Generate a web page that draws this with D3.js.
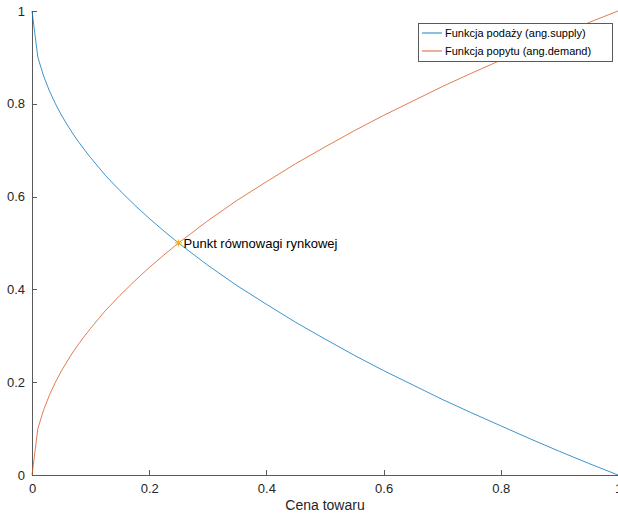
<!DOCTYPE html>
<html><head><meta charset="utf-8">
<script src="https://cdn.jsdelivr.net/npm/d3@7"></script>
<style>
html,body{margin:0;padding:0;background:#fff;}
svg{display:block;font-family:"Liberation Sans",Arial,Helvetica,sans-serif;}
</style></head><body>
<svg id="c" width="618" height="515"></svg>
<script>
const price = [0,0.01,0.02,0.03,0.04,0.05,0.06,0.07,0.08,0.09,0.1,0.125,0.15,0.175,0.2,0.225,0.25,0.275,0.3,0.35,0.4,0.45,0.5,0.55,0.6,0.65,0.7,0.75,0.8,0.85,0.9,0.95,1];
const supply = [1,0.9,0.859,0.827,0.8,0.776,0.755,0.735,0.717,0.7,0.684,0.646,0.613,0.582,0.553,0.526,0.5,0.476,0.452,0.408,0.368,0.329,0.293,0.258,0.225,0.194,0.163,0.134,0.106,0.078,0.051,0.025,0];
const demand = [0,0.1,0.141,0.173,0.2,0.224,0.245,0.265,0.283,0.3,0.316,0.354,0.387,0.418,0.447,0.474,0.5,0.524,0.548,0.592,0.632,0.671,0.707,0.742,0.775,0.806,0.837,0.866,0.894,0.922,0.949,0.975,1];
const xTicks = [0,0.2,0.4,0.6,0.8,1];
const yTicks = [0,0.2,0.4,0.6,0.8,1];
const eqPoint = {x:0.25, y:0.5, label:"Punkt równowagi rynkowej"};
const seriesNames = ["Funkcja podaży (ang.supply)","Funkcja popytu (ang.demand)"];
const xLabel = "Cena towaru";

const svg = d3.select("#c");
const L=32, R=618, T=11, B=475;
const x = d3.scaleLinear().domain([0,1]).range([L,R]);
const y = d3.scaleLinear().domain([0,1]).range([B,T]);
const axisColor="#5a5a5a", textColor="#262626";
const cSupply="#0072BD", cDemand="#D95319", cStar="#EDB120";

// axes
const xa = svg.append("g").attr("transform",`translate(0,${B})`)
  .call(d3.axisBottom(x).tickValues(xTicks).tickSizeInner(-5).tickSizeOuter(0).tickPadding(9).tickFormat(d3.format("~g")));
const ya = svg.append("g").attr("transform",`translate(${L},0)`)
  .call(d3.axisLeft(y).tickValues(yTicks).tickSizeInner(-5).tickSizeOuter(0).tickPadding(7).tickFormat(d3.format("~g")));
[xa,ya].forEach(a=>{
  a.selectAll("path,line").attr("stroke",axisColor).attr("stroke-width",1).attr("shape-rendering","crispEdges");
  a.selectAll("text").attr("fill",textColor).attr("font-size",13).attr("font-family","Liberation Sans, Arial, sans-serif");
});

svg.append("text").attr("x",(L+R)/2).attr("y",510).attr("text-anchor","middle")
  .attr("font-size",14).attr("fill",textColor).text(xLabel);

const line = (vals)=>d3.line().x((d,i)=>x(price[i])).y(d=>y(d))(vals);
svg.append("path").attr("d",line(supply)).attr("fill","none").attr("stroke",cSupply).attr("stroke-width",0.9).attr("stroke-opacity",0.85);
svg.append("path").attr("d",line(demand)).attr("fill","none").attr("stroke",cDemand).attr("stroke-width",0.9).attr("stroke-opacity",0.85);

// star marker
const sx=x(eqPoint.x), sy=y(eqPoint.y);
svg.append("path").attr("transform",`translate(${sx},${sy})`)
  .attr("d","M-3.5,0H3.5M0,-3.5V3.5M-2.5,-2.5L2.5,2.5M-2.5,2.5L2.5,-2.5")
  .attr("stroke",cStar).attr("stroke-width",1).attr("fill","none");
svg.append("text").attr("x",sx+5).attr("y",sy+4.5).attr("font-size",13).attr("fill","#000").text(eqPoint.label);

// legend
const lg = svg.append("g");
lg.append("rect").attr("x",418.5).attr("y",23.5).attr("width",194).attr("height",38)
  .attr("fill","#fff").attr("stroke",axisColor).attr("stroke-width",1);
[cSupply,cDemand].forEach((c,i)=>{
  const yy = 33+i*18;
  lg.append("line").attr("x1",422).attr("x2",442).attr("y1",yy).attr("y2",yy)
    .attr("stroke",c).attr("stroke-width",1).attr("stroke-opacity",0.9);
  lg.append("text").attr("x",445).attr("y",yy+4).attr("font-size",11).attr("fill","#000").text(seriesNames[i]);
});
</script></body></html>
